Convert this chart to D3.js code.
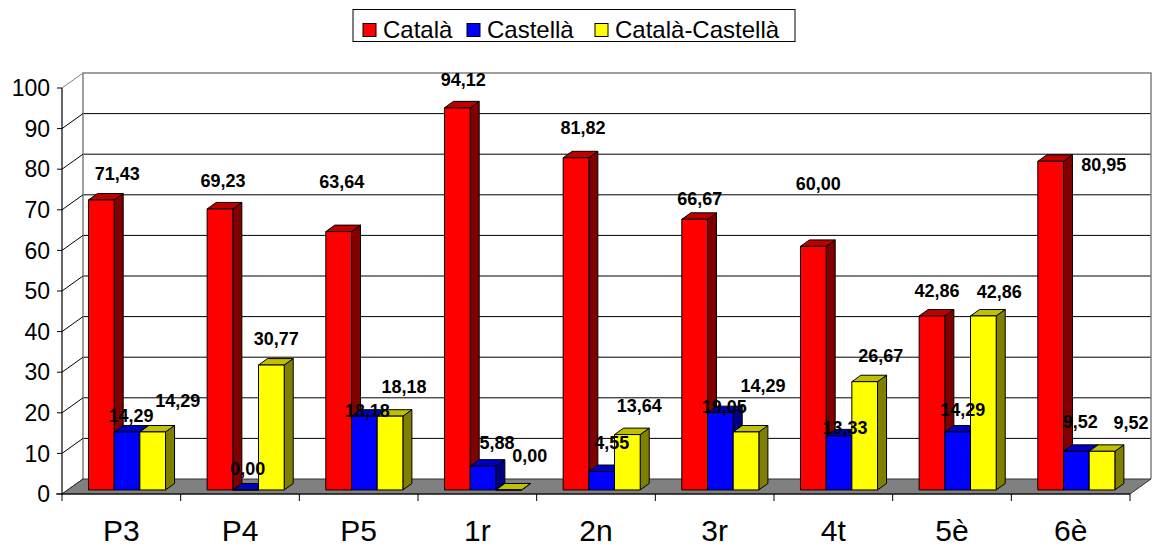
<!DOCTYPE html>
<html>
<head>
<meta charset="utf-8">
<script src="https://cdn.jsdelivr.net/npm/d3@7"></script>
<style>
  html, body { margin: 0; padding: 0; background: #fff; }
  svg { display: block; font-family: "Liberation Sans", Arial, sans-serif; }
</style>
</head>
<body>
<svg id="chart" width="1156" height="548"></svg>
<script>
// Percentages per school year, by language of the family
const categories = ["P3", "P4", "P5", "1r", "2n", "3r", "4t", "5è", "6è"];
const seriesNames = ["Català", "Castellà", "Català-Castellà"];
const catala = [71.43, 69.23, 63.64, 94.12, 81.82, 66.67, 60.00, 42.86, 80.95];
const castella = [14.29, 0.00, 18.18, 5.88, 4.55, 19.05, 13.33, 14.29, 9.52];
const catalaCastella = [14.29, 30.77, 18.18, 0.00, 13.64, 14.29, 26.67, 42.86, 9.52];
const yTicks = [0, 10, 20, 30, 40, 50, 60, 70, 80, 90, 100];

// Hand-placed label nudges (px) relative to the default spot above each bar
const labelNudgeCatala = [[11, 0], [-2, -2], [-2, -24], [1, -2], [2, -4], [0, 5], [0, -37], [0, 1], [48, 29]];
const labelNudgeCastella = [[-1, 10], [-3, 5], [-2, 20], [9, 2], [5, -3], [-1, 20], [1, 18], [0, 4], [-1, -4]];
const labelNudgeMixed = [[20, -5], [0, -1], [9, -4], [16, -8], [7, -3], [12, -20], [11, 0], [11, 2], [24, -3]];

const seriesValues = [catala, castella, catalaCastella];
const seriesNudges = [labelNudgeCatala, labelNudgeCastella, labelNudgeMixed];
const palette = [
  { front: "#FF0000", top: "#C00000", side: "#800000" },
  { front: "#0000FF", top: "#0000C0", side: "#000080" },
  { front: "#FFFF00", top: "#C0C000", side: "#808000" }
];

const svg = d3.select("#chart");

// Front plane of the 3D box
const x0 = 62, x1 = 1130;
const y = d3.scaleLinear().domain([0, 100]).range([494, 88]);
const x = d3.scaleBand().domain(categories).range([x0, x1]).paddingInner(0).paddingOuter(0);
const xs = d3.scaleBand().domain(d3.range(seriesNames.length)).range([0, x.bandwidth()])
  .paddingInner(0).paddingOuter(0.81);

// Depth of the box: z = 0 front, z = 1 back wall
const DX = 21, DY = -15;
const P = (px, v, z) => [px + DX * z, y(v) + DY * z];
const Z0 = 0.27, Z1 = 0.70;
const pts = arr => arr.map(p => p.join(",")).join(" ");

const fmt = v => d3.format(".2f")(v).replace(".", ",");

// Back wall
const back = svg.append("g");
back.append("polygon")
  .attr("points", pts([P(x0, 0, 1), P(x0, 100, 1), P(x1, 100, 1), P(x1, 0, 1)]))
  .attr("fill", "#fff");
back.selectAll("line.grid").data(yTicks.filter(t => t > 0 && t < 100)).join("line")
  .attr("class", "grid")
  .attr("x1", d => P(x0, d, 1)[0]).attr("y1", d => P(x0, d, 1)[1])
  .attr("x2", d => P(x1, d, 1)[0]).attr("y2", d => P(x1, d, 1)[1])
  .attr("stroke", "#000").attr("stroke-width", 1);
back.append("polyline")
  .attr("points", pts([P(x0, 0, 1), P(x0, 100, 1), P(x1, 100, 1), P(x1, 0, 1)]))
  .attr("fill", "none").attr("stroke", "#808080").attr("stroke-width", 1.5);

// Left wall diagonals
back.selectAll("line.side").data(yTicks).join("line")
  .attr("class", "side")
  .attr("x1", d => P(x0, d, 0)[0]).attr("y1", d => P(x0, d, 0)[1])
  .attr("x2", d => P(x0, d, 1)[0]).attr("y2", d => P(x0, d, 1)[1])
  .attr("stroke", d => d === 100 ? "#808080" : "#000").attr("stroke-width", 1);

// Floor
svg.append("polygon")
  .attr("points", pts([P(x0, 0, 0), P(x0, 0, 1), P(x1, 0, 1), P(x1, 0, 0)]))
  .attr("fill", "#808080").attr("stroke", "#333").attr("stroke-width", 1);

// Axes on the front plane
const axisG = svg.append("g");
axisG.append("line")
  .attr("x1", x0).attr("x2", x0).attr("y1", y(0)).attr("y2", y(100))
  .attr("stroke", "#000").attr("stroke-width", 1.2);
axisG.append("line")
  .attr("x1", x0 - 6).attr("x2", x1).attr("y1", y(0)).attr("y2", y(0))
  .attr("stroke", "#000").attr("stroke-width", 1.2);
axisG.selectAll("line.ytick").data(yTicks).join("line")
  .attr("class", "ytick")
  .attr("x1", x0 - 5).attr("x2", x0).attr("y1", d => y(d)).attr("y2", d => y(d))
  .attr("stroke", "#000");
axisG.selectAll("text.ylab").data(yTicks).join("text")
  .attr("class", "ylab")
  .attr("x", 50).attr("y", d => y(d)).attr("dy", "0.36em")
  .attr("text-anchor", "end").attr("font-size", 23).attr("fill", "#000")
  .text(d => d);
const xTickPos = categories.map(c => x(c)).concat([x1]);
axisG.selectAll("line.xtick").data(xTickPos).join("line")
  .attr("class", "xtick")
  .attr("x1", d => d).attr("x2", d => d).attr("y1", y(0)).attr("y2", y(0) + 7)
  .attr("stroke", "#000");
axisG.selectAll("text.xlab").data(categories).join("text")
  .attr("class", "xlab")
  .attr("x", d => x(d) + x.bandwidth() / 2).attr("y", 541)
  .attr("text-anchor", "middle").attr("font-size", 30).attr("fill", "#000")
  .text(d => d);

// 3D columns
const bars = [];
categories.forEach((c, i) => {
  seriesValues.forEach((vals, j) => {
    bars.push({ cat: c, i, j, v: vals[i] });
  });
});
const barG = svg.append("g");
bars.forEach(b => {
  const left = x(b.cat) + xs(b.j);
  const right = left + xs.bandwidth();
  const col = palette[b.j];
  const g = barG.append("g");
  // side face
  g.append("polygon")
    .attr("points", pts([P(right, b.v, Z0), P(right, b.v, Z1), P(right, 0, Z1), P(right, 0, Z0)]))
    .attr("fill", col.side).attr("stroke", "#000").attr("stroke-width", 1).attr("stroke-linejoin", "round");
  // top face
  g.append("polygon")
    .attr("points", pts([P(left, b.v, Z0), P(left, b.v, Z1), P(right, b.v, Z1), P(right, b.v, Z0)]))
    .attr("fill", col.top).attr("stroke", "#000").attr("stroke-width", 1).attr("stroke-linejoin", "round");
  // front face
  g.append("polygon")
    .attr("points", pts([P(left, 0, Z0), P(left, b.v, Z0), P(right, b.v, Z0), P(right, 0, Z0)]))
    .attr("fill", col.front).attr("stroke", "#000").attr("stroke-width", 1).attr("stroke-linejoin", "round");
});

// Value labels
const labelG = svg.append("g");
bars.forEach(b => {
  const left = x(b.cat) + xs(b.j);
  const cx = P(left + xs.bandwidth() / 2, b.v, Z0)[0];
  const top = P(left, b.v, Z0)[1];
  const n = seriesNudges[b.j][b.i];
  labelG.append("text")
    .attr("x", cx + 5 + n[0])
    .attr("y", top - 26 + n[1] + 6.5)
    .attr("text-anchor", "middle")
    .attr("font-size", 18).attr("font-weight", "bold").attr("fill", "#000")
    .text(fmt(b.v));
});

// Legend
const legend = svg.append("g");
legend.append("rect")
  .attr("x", 353).attr("y", 9.5).attr("width", 442).attr("height", 32)
  .attr("fill", "#fff").attr("stroke", "#000").attr("stroke-width", 1);
const legendX = [363, 467, 595];
seriesNames.forEach((name, j) => {
  legend.append("rect")
    .attr("x", legendX[j]).attr("y", 23.5).attr("width", 13).attr("height", 13)
    .attr("fill", palette[j].front).attr("stroke", "#000").attr("stroke-width", 1);
  legend.append("text")
    .attr("x", legendX[j] + 20).attr("y", 37.5)
    .attr("font-size", 24).attr("fill", "#000")
    .text(name);
});
</script>
</body>
</html>
